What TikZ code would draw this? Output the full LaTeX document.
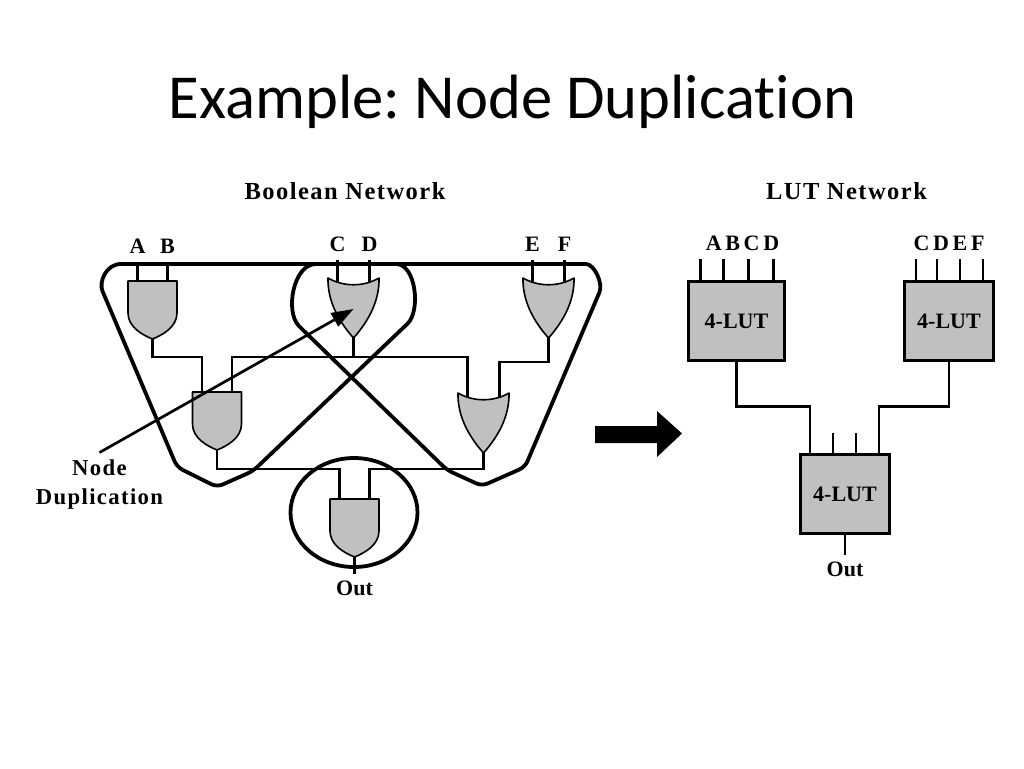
\documentclass[tikz,border=0pt]{standalone}
\usepackage{fontspec}
\setmainfont{Liberation Serif}
\newfontfamily\titlefont{Carlito}[Ligatures=NoCommon]
\newfontfamily\capfont{Liberation Serif Bold}[LetterSpace=6]
\newfontfamily\lutfont{Liberation Serif Bold}
\frenchspacing
\usepackage{tikz}
\usetikzlibrary{arrows.meta, positioning}
\definecolor{colorGate}{HTML}{C0C0C0}
\tikzset{
  wire/.style={line width=2.7pt},
  cover/.style={line width=3.8pt, rounded corners=6pt, line join=round},
  gateline/.style={line width=1.6pt, fill=colorGate, line join=round},
  lut/.style={draw, line width=3.4pt, fill=colorGate, minimum width=89pt, minimum height=79pt, inner sep=0pt, font=\lutfont\fontsize{22}{26}\selectfont},
  inlbl/.style={inner sep=0pt, font=\capfont\fontsize{22}{26}\selectfont},
  caption/.style={anchor=base, inner sep=0pt, font=\capfont\fontsize{24.5}{28}\selectfont},
  andgate/.pic={
    \draw[gateline] (-24.5,0) -- (24.5,0) -- (24.5,32) .. controls (24.5,46) and (10,54) .. (0,58) .. controls (-10,54) and (-24.5,46) .. (-24.5,32) -- cycle;
    \coordinate (-in1) at (-15,0);
    \coordinate (-in2) at (15,0);
    \coordinate (-out) at (0,58);
    \coordinate (-c) at (0,29);
  },
  orgate/.pic={
    \draw[gateline] (-25.5,0) .. controls (-10,9) and (10,9) .. (25.5,0) .. controls (26,22) and (16,42) .. (0,60) .. controls (-16,42) and (-26,22) .. (-25.5,0) -- cycle;
    \coordinate (-in1) at (-16,5);
    \coordinate (-in2) at (16,5);
    \coordinate (-out) at (0,60);
    \coordinate (-c) at (0,31);
  }
}

\begin{document}
\begin{tikzpicture}[x=1pt, y=-1pt]
\useasboundingbox (0,0) rectangle (1024,768);
\node[anchor=base, inner sep=0pt, font=\titlefont\fontsize{62.6}{70}\selectfont] (title) at (512.5,118) {Example: Node Duplication};
\node[caption] (boolnet) at (345,199) {Boolean Network};
\node[caption] (lutnet) at (846.5,199) {LUT Network};

\draw[cover] (250,264) -- (390,264) .. controls (416,264) and (421,311) .. (403,328) -- (253,471) -- (217,487) -- (177,467) -- (105,297) .. controls (98.5,282) and (106,264) .. (127,264) -- cycle;
\draw[cover] (450,264) -- (580,264) .. controls (594,264) and (603.4,283) .. (597,298) -- (525,467) -- (482,486) -- (447,470) -- (303,330) .. controls (285,312) and (293,264) .. (322,264) -- cycle;
\draw[cover] (354,512.5) ellipse [x radius=63.5, y radius=54.5];

\pic (gAB) at (152.5,281) {andgate};
\pic (gCD) at (353.5,278) {orgate};
\pic (gEF) at (548.5,278) {orgate};
\pic (gL) at (217,392) {andgate};
\pic (gR) at (483.5,393) {orgate};
\pic (gOut) at (354.5,499) {andgate};

\draw[wire] (gAB-in1) -- ++(0,-17) coordinate (a-top);
\draw[wire] (gAB-in2) -- ++(0,-17) coordinate (b-top);
\draw[wire] (gCD-in1) -- ++(0,-23) coordinate (c-top);
\draw[wire] (gCD-in2) -- ++(0,-23) coordinate (d-top);
\draw[wire] (gEF-in1) -- ++(0,-23) coordinate (e-top);
\draw[wire] (gEF-in2) -- ++(0,-23) coordinate (f-top);
\node[inlbl, above=10pt of a-top] (lblA) {A};
\node[inlbl, above=10pt of b-top] (lblB) {B};
\node[inlbl, above=8pt of c-top] (lblC) {C};
\node[inlbl, above=8pt of d-top] (lblD) {D};
\node[inlbl, above=8pt of e-top] (lblE) {E};
\node[inlbl, above=8pt of f-top] (lblF) {F};

\coordinate (cd-j) at ([yshift=-19pt]gCD-out);
\draw[wire] (gAB-out) |- ([yshift=35pt]gL-in1) -- (gL-in1);
\draw[wire] (gCD-out) -- (cd-j);
\draw[wire] (gL-in2) |- (cd-j) -| (gR-in1);
\draw[wire] (gEF-out) |- ([yshift=36pt]gR-in2) -- (gR-in2);
\draw[wire] (gL-out) |- ([yshift=30pt]gOut-in1) -- (gOut-in1);
\draw[wire] (gR-out) |- ([yshift=30pt]gOut-in2) -- (gOut-in2);
\draw[wire] (gOut-out) -- ++(0,17) coordinate (out-end);
\node[inlbl, below=7pt of out-end, font=\lutfont\fontsize{22}{26}\selectfont] (outlbl) {Out};

\node[inlbl, align=center, inner sep=7.5pt, font=\capfont\fontsize{22.7}{29}\selectfont] (dup) at (99.5,485) {Node\\Duplication};
\draw[wire, -{Triangle[length=22pt,width=15pt]}] (dup.north) -- (gCD-c);

\fill (595,426) -- (657,426) -- (657,411) -- (682,433.5) -- (657,457) -- (657,443) -- (595,443) -- cycle;

\node[lut, minimum width=96pt] (lut1) at (736.5,321) {4-LUT};
\node[lut] (lut2) at (949,321) {4-LUT};
\node[lut] (lut3) at (845,494) {4-LUT};
\foreach \dx in {-36,-13,12,37} \draw[wire] (lut1.north) ++(\dx,0) -- ++(0,-21);
\foreach \dx in {-33,-12,11,34} \draw[wire] (lut2.north) ++(\dx,0) -- ++(0,-21);
\foreach \dx in {-12,11} \draw[wire] (lut3.north) ++(\dx,0) -- ++(0,-20);
\node[inlbl, anchor=base] (lblABCD) at ([xshift=6pt,yshift=29pt]lut1.north) {A\,B\,C\,D};
\node[inlbl, anchor=base] (lblCDEF) at ([yshift=29pt]lut2.north) {C\,D\,E\,F};
\draw[wire] (lut1.south) |- ([xshift=-35pt,yshift=46pt]lut3.north) -- ([xshift=-35pt]lut3.north);
\draw[wire] (lut2.south) |- ([xshift=34pt,yshift=46pt]lut3.north) -- ([xshift=34pt]lut3.north);
\draw[wire] (lut3.south) -- ++(0,20) coordinate (lutout-end);
\node[inlbl, below=7pt of lutout-end, font=\lutfont\fontsize{22}{26}\selectfont] (lutoutlbl) {Out};
\end{tikzpicture}
\end{document}
